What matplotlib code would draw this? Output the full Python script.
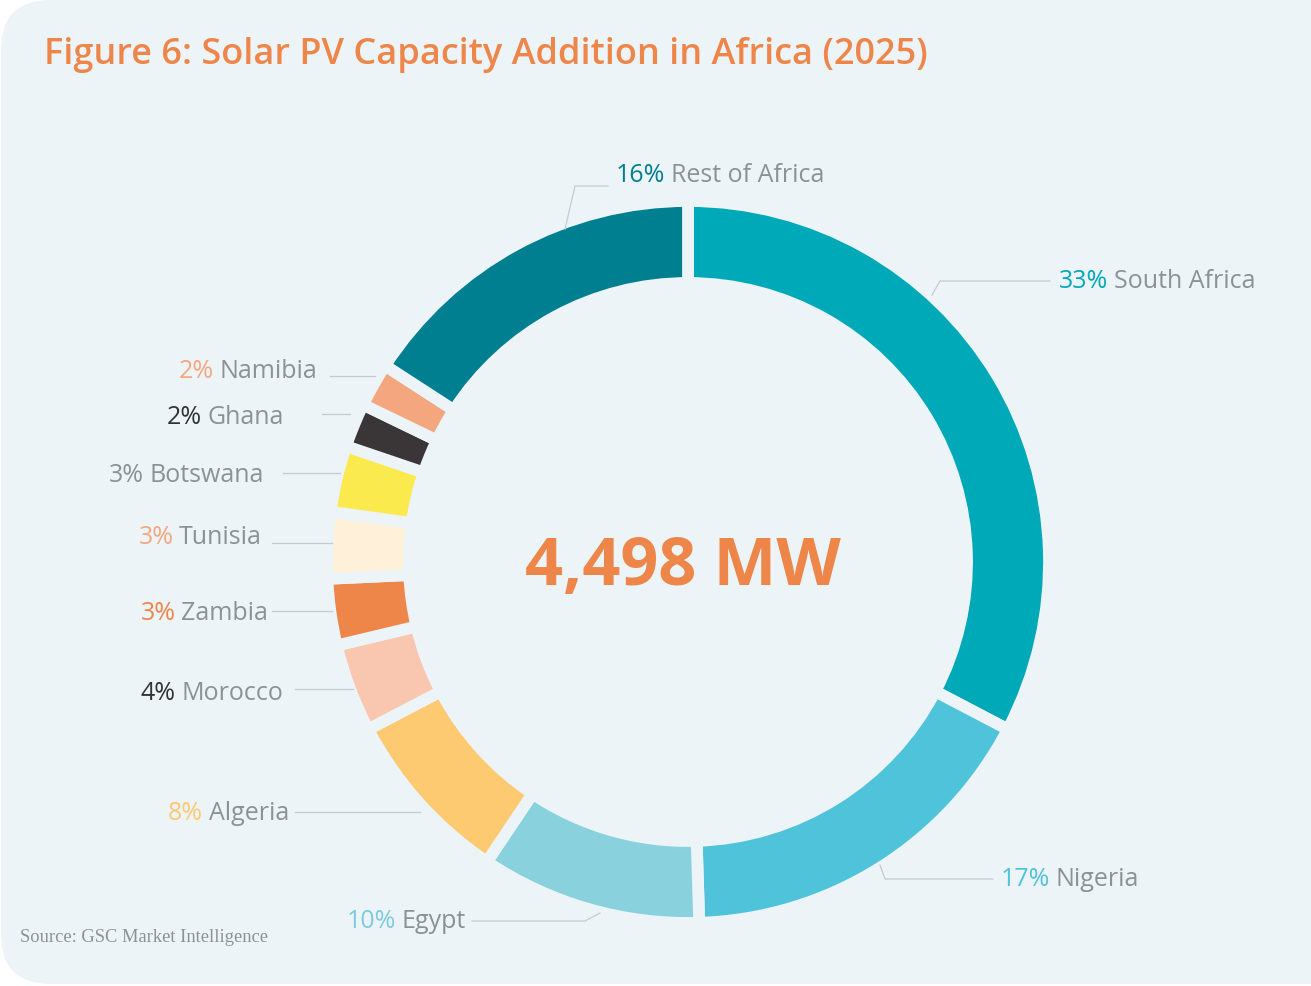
import matplotlib.pyplot as plt
from matplotlib.patches import FancyBboxPatch

# data
countries = ["South Africa", "Nigeria", "Egypt", "Algeria", "Morocco", "Zambia",
             "Tunisia", "Botswana", "Ghana", "Namibia", "Rest of Africa"]
shares = [33, 17, 10, 8, 4, 3, 3, 3, 2, 2, 16]
colors = ["#00A9B7", "#4FC3D9", "#8AD1DE", "#FDC971", "#F9C6B0", "#EE864A",
          "#FFF0D9", "#FAEA4E", "#3A3536", "#F4A77F", "#007F91"]
pct_colors = ["#00A9B7", "#4FC3D9", "#7ECBE0", "#FDC971", "#333333", "#EE864A",
              "#F4A77F", "#8C9196", "#333333", "#F4A77F", "#007F91"]
total_mw = "4,498 MW"

BG = "#EDF4F7"
GREY = "#8C9196"
ORANGE = "#EE864A"

fig = plt.figure(figsize=(13.11, 9.87), dpi=100)
ax = fig.add_axes([0, 0, 1, 1])

# donut (y axis inverted later, so counterclock=True goes clockwise on screen)
cx, cy = 688, 563
ax.pie(shares, colors=colors, startangle=-90, counterclock=True, center=(cx, cy),
       radius=361, frame=True,
       wedgeprops=dict(width=82, edgecolor=BG, linewidth=8.5))
ax.set_xlim(0, 1311)
ax.set_ylim(987, 0)
ax.set_aspect("equal")
ax.axis("off")

ax.add_patch(FancyBboxPatch((1, 1), 1400, 984, boxstyle="round,pad=0,rounding_size=50",
                            fc=BG, ec="none", zorder=0))

ax.text(cx - 5, 568, total_mw, ha="center", va="center", fontsize=48,
        fontweight="bold", color=ORANGE, family="Open Sans")

ax.text(44, 55, "Figure 6: Solar PV Capacity Addition in Africa (2025)", ha="left",
        va="center", fontsize=26, fontweight="semibold", color=ORANGE, family="Open Sans")

ax.text(20, 938, "Source: GSC Market Intelligence", ha="left", va="center",
        fontsize=13.3, color=GREY, family="Liberation Serif")

# labels: (x, y, side, leader line points)
label_pos = {
    "South Africa": (1059, 281, "left", [(932, 296), (940, 282), (1050, 282)]),
    "Nigeria": (1001, 880, "left", [(880, 866), (885, 880), (993, 880)]),
    "Egypt": (466, 921, "right", [(600, 914), (585, 922), (472, 922)]),
    "Algeria": (289, 813, "right", [(420, 813), (295, 813)]),
    "Morocco": (283, 694, "right", [(353, 690), (295, 690)]),
    "Zambia": (268, 613, "right", [(332, 612), (272, 612)]),
    "Tunisia": (262, 538, "right", [(332, 544), (272, 544)]),
    "Botswana": (264, 476, "right", [(340, 474), (283, 474)]),
    "Ghana": (284, 417, "right", [(350, 415), (322, 415)]),
    "Namibia": (317, 372, "right", [(375, 377), (330, 377)]),
    "Rest of Africa": (616, 176, "left", [(565, 230), (575, 187), (608, 187)]),
}

fs = 18
for name, share, pc in zip(countries, shares, pct_colors):
    x, y, side, line = label_pos[name]
    xs, ys = zip(*line)
    ax.plot(xs, ys, color="#C5CCD0", lw=0.9, zorder=1)
    if side == "left":
        t = ax.text(x, y, f"{share}%", ha="left", va="center", fontsize=fs,
                    color=pc, family="Open Sans")
        ax.annotate(name, xy=(1, 0.5), xycoords=t, xytext=(4, 0),
                    textcoords="offset points", ha="left", va="center",
                    fontsize=fs, color=GREY, family="Open Sans")
    else:
        t = ax.text(x, y, name, ha="right", va="center", fontsize=fs,
                    color=GREY, family="Open Sans")
        ax.annotate(f"{share}%", xy=(0, 0.5), xycoords=t, xytext=(-4, 0),
                    textcoords="offset points", ha="right", va="center",
                    fontsize=fs, color=pc, family="Open Sans")

fig.savefig("out.png", dpi=100, facecolor="white")
